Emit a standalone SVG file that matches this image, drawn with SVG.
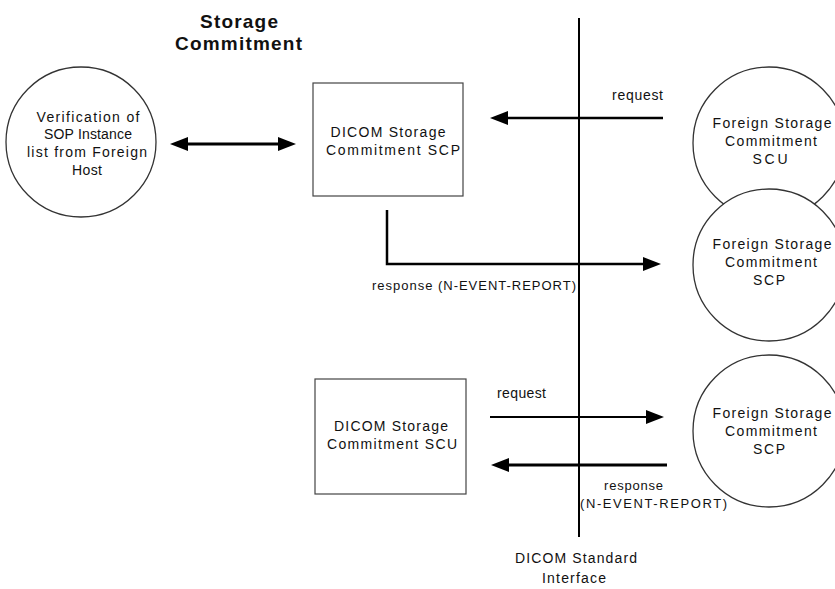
<svg xmlns="http://www.w3.org/2000/svg" width="835" height="589" viewBox="0 0 835 589">
<style>
text{font-family:"Liberation Sans",Arial,sans-serif;font-size:14px;fill:#111}
.t{font-weight:bold;font-size:19px}
.s{font-size:13px}
.c{text-anchor:middle}
.node{fill:#fff;stroke:#333;stroke-width:1.3}
.box{fill:#fff;stroke:#444;stroke-width:1.2}
.ln{fill:none;stroke:#000}
</style>
<defs>
<marker id="ah" markerUnits="userSpaceOnUse" markerWidth="20" markerHeight="16" refX="8" refY="7" orient="auto-start-reverse" overflow="visible">
<path d="M0,0 L18,7 L0,14 z" fill="#000"/>
</marker>
</defs>
<rect width="835" height="589" fill="#fff"/>
<g id="title">
<text class="t c" x="239" y="28" textLength="78" lengthAdjust="spacing">Storage</text>
<text class="t c" x="238.5" y="50" textLength="127" lengthAdjust="spacing">Commitment</text>
</g>
<g id="verification">
<circle class="node" cx="81" cy="142" r="75"/>
<text class="c" x="88" y="122" textLength="103" lengthAdjust="spacing">Verification of</text>
<text class="c" x="88" y="139" textLength="88" lengthAdjust="spacing">SOP Instance</text>
<text class="c" x="87" y="157" textLength="120" lengthAdjust="spacing">list from Foreign</text>
<text class="c" x="87" y="175" textLength="30" lengthAdjust="spacing">Host</text>
</g>
<g id="scp-box">
<rect class="box" x="313" y="83" width="150" height="113"/>
<text class="c" x="388" y="137" textLength="115" lengthAdjust="spacing">DICOM Storage</text>
<text class="c" x="393" y="155" textLength="134" lengthAdjust="spacing">Commitment SCP</text>
</g>
<g id="scu-box">
<rect class="box" x="315" y="379" width="151" height="115"/>
<text class="c" x="391" y="431" textLength="114" lengthAdjust="spacing">DICOM Storage</text>
<text class="c" x="392" y="449" textLength="130" lengthAdjust="spacing">Commitment SCU</text>
</g>
<g id="foreign-scu">
<circle class="node" cx="769" cy="143" r="76"/>
<text class="c" x="772" y="128" textLength="119" lengthAdjust="spacing">Foreign Storage</text>
<text class="c" x="771" y="146" textLength="92" lengthAdjust="spacing">Commitment</text>
<text class="c" x="770" y="164" textLength="35" lengthAdjust="spacing">SCU</text>
</g>
<g id="foreign-scp-1">
<circle class="node" cx="769" cy="265" r="76"/>
<text class="c" x="772" y="249" textLength="119" lengthAdjust="spacing">Foreign Storage</text>
<text class="c" x="771" y="267" textLength="92" lengthAdjust="spacing">Commitment</text>
<text class="c" x="769" y="285" textLength="32" lengthAdjust="spacing">SCP</text>
</g>
<g id="foreign-scp-2">
<circle class="node" cx="769" cy="431" r="76"/>
<text class="c" x="772" y="418" textLength="119" lengthAdjust="spacing">Foreign Storage</text>
<text class="c" x="771" y="436" textLength="92" lengthAdjust="spacing">Commitment</text>
<text class="c" x="769" y="454" textLength="32" lengthAdjust="spacing">SCP</text>
</g>
<g id="interface">
<line class="ln" x1="579" y1="18" x2="579" y2="537" stroke-width="2"/>
<text class="c" x="576" y="563" textLength="122" lengthAdjust="spacing">DICOM Standard</text>
<text class="c" x="574" y="583" textLength="64" lengthAdjust="spacing">Interface</text>
</g>
<g id="connectors">
<path class="ln" d="M180,144 H286" stroke-width="3" marker-start="url(#ah)" marker-end="url(#ah)"/>
<path class="ln" d="M663,118 H500" stroke-width="2.6" marker-end="url(#ah)"/>
<text x="612" y="100" textLength="51" lengthAdjust="spacing">request</text>
<path class="ln" d="M387,210 V264 H651" stroke-width="2.5" marker-end="url(#ah)"/>
<text class="s" x="372" y="290" textLength="204" lengthAdjust="spacing">response (N-EVENT-REPORT)</text>
<path class="ln" d="M490,417 H654" stroke-width="2" marker-end="url(#ah)"/>
<text x="497" y="398" textLength="49" lengthAdjust="spacing">request</text>
<path class="ln" d="M667,465 H501" stroke-width="3" marker-end="url(#ah)"/>
<text class="s" x="604" y="490" textLength="59" lengthAdjust="spacing">response</text>
<text class="s" x="580" y="508" textLength="147" lengthAdjust="spacing">(N-EVENT-REPORT)</text>
</g>
</svg>
